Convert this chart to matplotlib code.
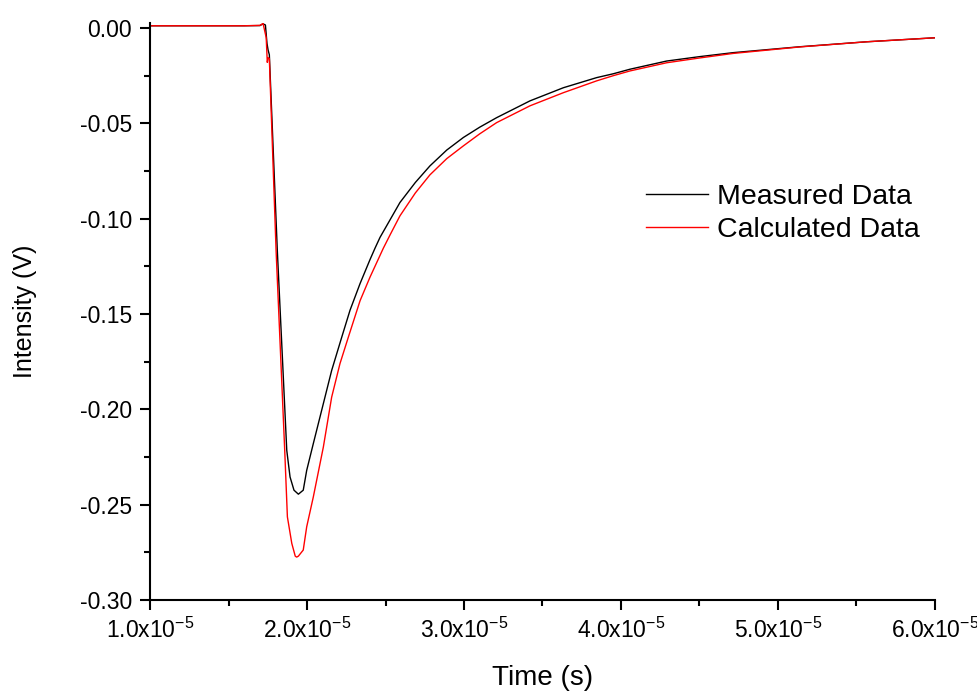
import numpy as np
import matplotlib
matplotlib.use("Agg")
import matplotlib.pyplot as plt
from matplotlib.ticker import MultipleLocator, FuncFormatter

plt.rcParams['font.family'] = ['Liberation Sans', 'DejaVu Sans']
plt.rcParams['mathtext.fontset'] = 'custom'
plt.rcParams['mathtext.rm'] = 'Liberation Sans'
plt.rcParams['mathtext.it'] = 'Liberation Sans:italic'

# time in units of 1e-5 s
t_meas = [1.00, 1.30, 1.60, 1.70, 1.72, 1.735, 1.745, 1.752, 1.760, 1.811, 1.841,
          1.871, 1.892, 1.917, 1.945, 1.976, 1.998, 2.040, 2.104, 2.157, 2.221,
          2.274, 2.338, 2.401, 2.433, 2.465, 2.592, 2.69, 2.783, 2.89, 2.996, 3.10,
          3.208, 3.420, 3.633, 3.845, 3.95, 4.057, 4.291, 4.50, 4.715, 5.140,
          5.565, 6.00]
v_meas = [0.0012, 0.0012, 0.0012, 0.0013, 0.0022, 0.0016, -0.008, -0.0115, -0.014,
          -0.117, -0.169, -0.2215, -0.2355, -0.2424, -0.2445, -0.2424, -0.232,
          -0.218, -0.197, -0.1796, -0.1622, -0.148, -0.134, -0.1215, -0.1155,
          -0.1098, -0.0915, -0.081, -0.0723, -0.064, -0.0574, -0.052, -0.047,
          -0.0382, -0.0313, -0.026, -0.024, -0.0216, -0.0173, -0.015, -0.0129,
          -0.0098, -0.0072, -0.0051]

t_calc = [1.00, 1.30, 1.60, 1.70, 1.72, 1.74, 1.747, 1.752, 1.760, 1.803, 1.858,
          1.875, 1.903, 1.925, 1.934, 1.945, 1.976, 1.998, 2.040, 2.104, 2.157,
          2.210, 2.263, 2.338, 2.401, 2.486, 2.529, 2.592, 2.69, 2.783, 2.89,
          2.996, 3.10, 3.208, 3.420, 3.633, 3.845, 3.95, 4.057, 4.291, 4.50,
          4.715, 5.140, 5.565, 6.00]
v_calc = [0.0012, 0.0012, 0.0012, 0.0014, 0.0024, -0.005, -0.018, -0.0155, -0.016,
          -0.1168, -0.2215, -0.2564, -0.2703, -0.277, -0.2775, -0.277, -0.2738,
          -0.2616, -0.246, -0.2198, -0.1936, -0.176, -0.1622, -0.143, -0.1307,
          -0.1155, -0.1085, -0.0985, -0.0865, -0.077, -0.0685, -0.0618, -0.0555,
          -0.0496, -0.0408, -0.0339, -0.0277, -0.025, -0.0225, -0.0182, -0.0157,
          -0.0133, -0.0099, -0.0072, -0.0051]

fig = plt.figure(figsize=(9.78, 6.91), dpi=100)
ax = fig.add_axes([0.1534, 0.1317, 0.8026, 0.8346])

ax.plot(np.array(t_meas) * 1e-5, v_meas, color='black', lw=1.0, label='Measured Data')
ax.plot(np.array(t_calc) * 1e-5, v_calc, color='red', lw=1.0, label='Calculated Data')

ax.set_xlim(1.0e-5, 6.0e-5)
ax.set_ylim(-0.30, 0.0025)

ax.xaxis.set_major_locator(MultipleLocator(1e-5))
ax.xaxis.set_minor_locator(MultipleLocator(0.5e-5))
ax.yaxis.set_major_locator(MultipleLocator(0.05))
ax.yaxis.set_minor_locator(MultipleLocator(0.025))


def fmt_x(x, pos):
    return r'%.1fx10$^{-5}$' % (x / 1e-5)


ax.xaxis.set_major_formatter(FuncFormatter(fmt_x))
ax.yaxis.set_major_formatter(FuncFormatter(lambda y, pos: '%.2f' % y))

for s in ['top', 'right']:
    ax.spines[s].set_visible(False)
for s in ['left', 'bottom']:
    ax.spines[s].set_linewidth(1.5)

ax.tick_params(which='major', direction='out', length=7, width=1.5, labelsize=16.5, pad=6)
ax.tick_params(which='minor', direction='out', length=4, width=1.5)

ax.set_xlabel('Time (s)', fontsize=20, labelpad=16)
ax.set_ylabel('Intensity (V)', fontsize=18, labelpad=31)

ax.legend(loc='upper left', bbox_to_anchor=(0.599, 0.766), frameon=False, fontsize=20.5,
          handlelength=2.2, handletextpad=0.3, labelspacing=0.25)

fig.savefig('out.png', dpi=100)
